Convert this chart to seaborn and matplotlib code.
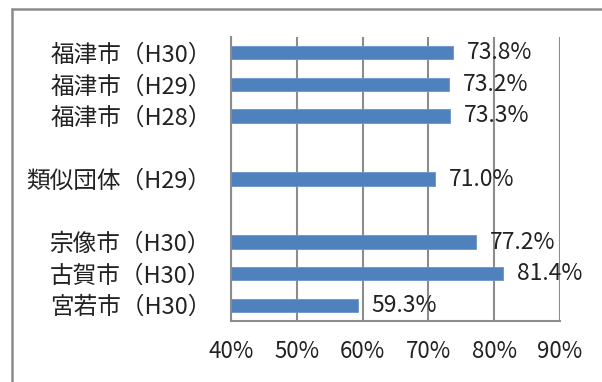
import numpy as np
import pandas as pd
import matplotlib
matplotlib.use("Agg")
import matplotlib.pyplot as plt
import seaborn as sns
from matplotlib.lines import Line2D

# data
categories = ["福津市（H30）", "福津市（H29）", "福津市（H28）", "類似団体（H29）",
              "宗像市（H30）", "古賀市（H30）", "宮若市（H30）"]
values = [73.8, 73.2, 73.3, 71.0, 77.2, 81.4, 59.3]
# slot order with two empty spacer rows
order = ["福津市（H30）", "福津市（H29）", "福津市（H28）", " ", "類似団体（H29）",
         "  ", "宗像市（H30）", "古賀市（H30）", "宮若市（H30）"]
x_ticks = [40, 50, 60, 70, 80, 90]


def main():
    sns.set_style("white")
    plt.rcParams["font.family"] = ["Noto Sans CJK JP", "DejaVu Sans"]

    df = pd.DataFrame({"name": categories, "rate": values})

    fig = plt.figure(figsize=(6.02, 3.82), dpi=100)
    ax = fig.add_axes([0.3837, 0.1597, 0.930 - 0.3837, 0.9031 - 0.1597])

    sns.barplot(data=df, x="rate", y="name", order=order, color="#4F81BD",
                saturation=1, width=0.42, edgecolor="#6A95CC", linewidth=0.6,
                ax=ax, errorbar=None)

    for c in ax.containers:
        ax.bar_label(c, labels=[f"{v:.1f}%" for v in c.datavalues], padding=10,
                     fontsize=16.5, color="#222222")

    grid_col = "#8C8C8C"
    ax.set_xlim(40, 90)
    ax.set_ylim(len(order) - 0.5, -0.5)
    ax.set_xticks(x_ticks)
    ax.set_xticklabels([f"{t}%" for t in x_ticks], fontsize=16, color="#222222")
    ax.xaxis.grid(True, color=grid_col, linewidth=1.5)
    ax.set_axisbelow(True)

    ax.set_yticks(range(len(order)))
    ax.set_yticklabels(order, fontsize=17, color="#222222")
    ax.set_yticks(np.arange(-0.5, len(order), 1.0), minor=True)
    ax.tick_params(axis="y", which="major", length=0, pad=14)
    ax.tick_params(axis="y", which="minor", length=5, width=1.5, color=grid_col)
    ax.tick_params(axis="x", which="major", length=5, width=1.5, color=grid_col, pad=9)

    ax.set_xlabel("")
    ax.set_ylabel("")
    for s in ["top", "right"]:
        ax.spines[s].set_visible(False)
    for s in ["left", "bottom"]:
        ax.spines[s].set_color(grid_col)
        ax.spines[s].set_linewidth(1.5)

    # outer chart border (cut off at right and bottom in the reference)
    fig.add_artist(Line2D([12 / 602, 12 / 602], [0, 1 - 9 / 382],
                          color="#8C8C8C", linewidth=1.8))
    fig.add_artist(Line2D([12 / 602, 1], [1 - 9 / 382, 1 - 9 / 382],
                          color="#8C8C8C", linewidth=1.8))

    fig.savefig("out.png", dpi=100)
    plt.close(fig)


if __name__ == "__main__":
    main()
